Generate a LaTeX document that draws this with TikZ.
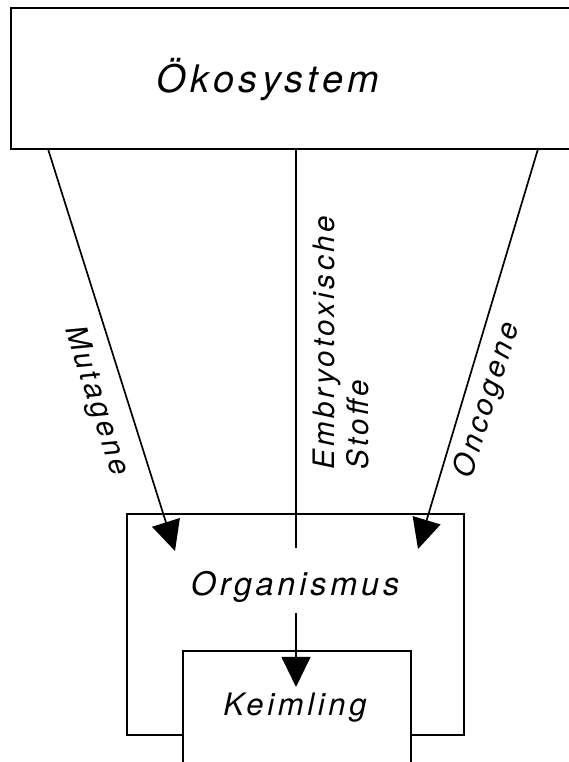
\documentclass[tikz,border=0pt]{standalone}
\usepackage{fontspec}
\usepackage{tikz}
\usetikzlibrary{shapes, positioning, arrows.meta}
\newfontfamily\beschrift{TeX Gyre Heros}[LetterSpace=12]
\tikzset{
	kasten/.style={draw, line width=1.4pt, rectangle, inner sep=0pt},
	pfeil/.style={line width=1.2pt, -{Triangle[length=0.75cm, width=0.72cm]}},
	schrift/.style={font=\beschrift\itshape\fontsize{#1}{24}\selectfont, inner sep=0pt}
}

\begin{document}
\begin{tikzpicture}[x=0.025cm, y=0.025cm]
			\useasboundingbox (0,0) rectangle (569,762);
			\clip (0,0) rectangle (569,762);
			\node[kasten, minimum width=14.475cm, minimum height=3.525cm] (oeko) at (300.5,683.5) {};
			\node[schrift=27] (oekotext) at (268,682) {Ökosystem};
			\node[kasten, minimum width=8.425cm, minimum height=5.525cm] (organ) at (295.5,137.5) {};
			\node[kasten, fill=white, minimum width=5.7cm, minimum height=3.275cm] (keim) at (297,45.5) {};
			\node[schrift=23] (organtext) at (295,175) {Organismus};
			\node[schrift=22] (keimtext) at (295,54) {Keimling};
			\coordinate (mutstart) at (48,613);
			\coordinate (mutend) at (175,211);
			\coordinate (oncstart) at (538,613);
			\coordinate (oncend) at (418,213);
			\coordinate (embstart) at (296,613);
			\coordinate (embend) at (296,214);
			\coordinate (keimstart) at (296,149);
			\coordinate (keimend) at (296,75);
			\draw[pfeil] (mutstart) -- (mutend);
			\draw[pfeil] (oncstart) -- (oncend);
			\draw[line width=1.2pt] (embstart) -- (embend);
			\draw[pfeil] (keimstart) -- (keimend);
			\node[schrift=21, rotate=-72.5] (mutag) at (96,361) {Mutagene};
			\node[schrift=21, rotate=73] (oncog) at (488,362) {Oncogene};
			\node[schrift=21, rotate=90, anchor=north west, align=left] (embryo) at (313,292) {Embryotoxische\\Stoffe};
		\end{tikzpicture}
\end{document}
